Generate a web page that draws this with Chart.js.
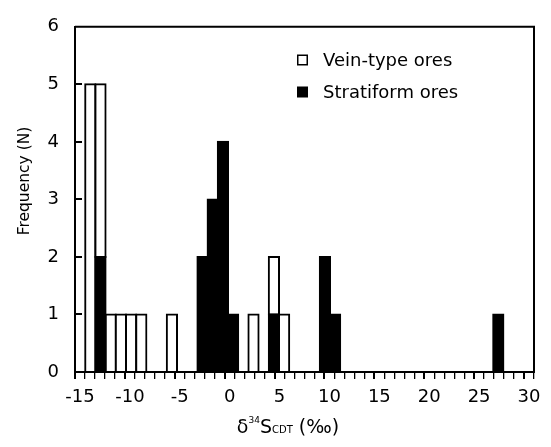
<!DOCTYPE html>
<html><head><meta charset="utf-8">
<style>html,body{margin:0;padding:0;background:#fff;overflow:hidden}canvas{display:block}</style>
<script src="https://cdn.jsdelivr.net/npm/chart.js@4/dist/chart.umd.min.js"></script>
</head><body>
<canvas id="c" width="551" height="447"></canvas>
<script>
// Bin lower edges (bin width 1 ‰), from -15 to 29
const binStarts = [-15,-14,-13,-12,-11,-10,-9,-8,-7,-6,-5,-4,-3,-2,-1,0,1,2,3,4,5,6,7,8,9,10,11,12,13,14,15,16,17,18,19,20,21,22,23,24,25,26,27,28,29];
const categories = binStarts.map(b => b + '~' + (b + 1));
const veinCounts  = [0,5,3,1,1,1,1,0,0,1, 0,0,0,0,0,0,0,1,0,1, 1,0,0,0,0,0,0,0,0,0, 0,0,0,0,0,0,0,0,0,0, 0,0,0,0,0];
const stratCounts = [0,0,2,0,0,0,0,0,0,0, 0,0,2,3,4,1,0,0,0,1, 0,0,0,0,2,1,0,0,0,0, 0,0,0,0,0,0,0,0,0,0, 0,1,0,0,0];
const seriesNames = ['Vein-type ores', 'Stratiform ores'];
const xTickLabels = [-15,-10,-5,0,5,10,15,20,25,30];
const yTickLabels = [0,1,2,3,4,5,6];

const FONT = '"DejaVu Sans", sans-serif';

const drawExtras = {
  id: 'extras',
  afterDraw(chart) {
    const ctx = chart.ctx;
    const a = chart.chartArea;
    const ys = chart.scales.y;
    ctx.save();
    ctx.strokeStyle = '#000';
    ctx.lineWidth = 2;
    // top and right frame
    ctx.beginPath();
    ctx.moveTo(a.left, a.top); ctx.lineTo(a.right, a.top); ctx.lineTo(a.right, a.bottom);
    ctx.stroke();
    // inward y ticks
    yTickLabels.forEach(v => {
      if (v <= ys.min || v >= ys.max) return;
      const py = Math.round(ys.getPixelForValue(v));
      ctx.beginPath(); ctx.moveTo(a.left, py); ctx.lineTo(a.left + 7, py); ctx.stroke();
    });
    // legend
    const ds = chart.data.datasets;
    const items = [ds[1], ds[0]];
    const lx = a.left + 222, ly = [60, 92];
    ctx.font = '18px ' + FONT;
    ctx.textBaseline = 'middle';
    ctx.textAlign = 'left';
    items.forEach((d, i) => {
      const cy = ly[i];
      ctx.fillStyle = '#000';
      ctx.fillRect(lx, cy - 5.5, 11, 11);
      ctx.fillStyle = d.backgroundColor;
      ctx.fillRect(lx + 1.5, cy - 4, 8, 8);
      ctx.fillStyle = '#000';
      ctx.fillText(d.label, lx + 26, cy + 1);
    });
    // y title
    ctx.save();
    ctx.translate(25, 181);
    ctx.rotate(-Math.PI / 2);
    ctx.textAlign = 'center';
    ctx.textBaseline = 'middle';
    ctx.font = '15.5px ' + FONT;
    ctx.fillText('Frequency (N)', 0, 0);
    ctx.restore();
    // x title with super/subscript
    const parts = [
      {t: 'δ', f: '19px', dy: 0},
      {t: '34', f: '9px', dy: -10},
      {t: 'S', f: '19px', dy: 0},
      {t: 'CDT', f: '10px', dy: 0},
      {t: ' (‰)', f: '19px', dy: 0}
    ];
    let total = 0;
    parts.forEach(p => { ctx.font = p.f + ' ' + FONT; p.w = ctx.measureText(p.t).width; total += p.w; });
    let x = 288 - total / 2;
    const base = 433;
    ctx.textAlign = 'left';
    ctx.textBaseline = 'alphabetic';
    parts.forEach(p => { ctx.font = p.f + ' ' + FONT; ctx.fillText(p.t, x, base + p.dy); x += p.w; });
    ctx.restore();
  }
};

const toBar = arr => arr.map(v => v === 0 ? null : v);

new Chart(document.getElementById('c'), {
  type: 'bar',
  data: {
    labels: categories,
    datasets: [
      { label: seriesNames[1], data: toBar(stratCounts), backgroundColor: '#000', borderColor: '#000', borderWidth: 2, borderSkipped: false, inflateAmount: 1, xAxisID: 'xc', yAxisID: 'y' },
      { label: seriesNames[0], data: toBar(veinCounts), backgroundColor: '#fff', borderColor: '#000', borderWidth: 2, borderSkipped: false, inflateAmount: 1, xAxisID: 'xc', yAxisID: 'y' }
    ]
  },
  options: {
    responsive: false,
    animation: false,
    devicePixelRatio: 1,
    layout: { padding: { left: 0, top: 15, right: 17, bottom: 0 } },
    barPercentage: 1,
    categoryPercentage: 1,
    plugins: { legend: { display: false }, tooltip: { enabled: false } },
    scales: {
      xc: { type: 'category', display: false, stacked: true, offset: true },
      x: {
        type: 'linear', position: 'bottom', min: -15, max: 30,
        afterFit: s => { s.height = 75; },
        ticks: {
          stepSize: 1, autoSkip: false, maxRotation: 0, padding: 8, color: '#000',
          font: { family: FONT, size: 18 },
          callback: v => xTickLabels.includes(v) ? String(v) : ''
        },
        grid: { drawOnChartArea: false, drawTicks: true, tickLength: 7, color: '#000',
                lineWidth: c => (c.tick && c.tick.value % 5 === 0) ? 2 : 1.3 },
        border: { display: true, color: '#000', width: 2 }
      },
      y: {
        type: 'linear', min: 0, max: 6, stacked: true,
        afterFit: s => { s.width = 75; },
        ticks: { stepSize: 1, padding: 16, color: '#000', font: { family: FONT, size: 18 },
                 callback: v => yTickLabels.includes(v) ? String(v) : '' },
        grid: { display: false, drawTicks: false },
        border: { display: true, color: '#000', width: 2 }
      }
    }
  },
  plugins: [drawExtras]
});
</script>
</body></html>
